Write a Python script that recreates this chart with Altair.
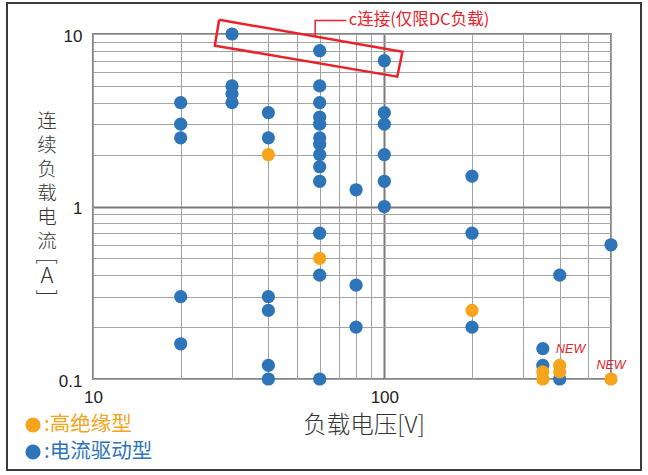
import altair as alt
import pandas as pd

# ---- data ----
BLUE_X = [20, 20, 20, 20, 20,
          30, 30, 30, 30,
          40, 40, 40, 40, 40, 40,
          60, 60, 60, 60, 60, 60, 60, 60, 60, 60, 60, 60, 60,
          80, 80, 80,
          100, 100, 100, 100, 100, 100,
          200, 200, 200,
          350, 350,
          400, 400,
          600]
BLUE_Y = [4, 3, 2.5, 0.3, 0.16,
          10, 5, 4.5, 4,
          3.5, 2.5, 0.3, 0.25, 0.12, 0.1,
          8, 5, 4, 3.3, 3, 2.5, 2.3, 2, 1.7, 1.4, 0.7, 0.4, 0.1,
          1.25, 0.35, 0.2,
          7, 3.5, 3, 2, 1.4, 1,
          1.5, 0.7, 0.2,
          0.15, 0.12,
          0.4, 0.1,
          0.6]
ORANGE_X = [40, 60, 200, 350, 350, 400, 400, 600]
ORANGE_Y = [2, 0.5, 0.25, 0.11, 0.1, 0.12, 0.11, 0.1]

X_GRID = [10, 20, 30, 40, 50, 60, 70, 80, 90, 100, 200, 300, 400, 500, 600]
Y_GRID = [0.1, 0.2, 0.3, 0.4, 0.5, 0.6, 0.7, 0.8, 0.9,
          1, 2, 3, 4, 5, 6, 7, 8, 9, 10]

# annotation box around the "c" contact points (data coordinates)
BOX_X = [27.1, 115.4, 110.8, 26.2, 27.1]
BOX_Y = [12.1, 7.9, 5.66, 8.56, 12.1]
LEADER_X = [57.9, 57.9, 74]
LEADER_Y = [9.67, 11.98, 11.98]
ANNOT_TEXT = "c连接(仅限DC负载)"
NEW_X = [436, 600]
NEW_Y = [0.15, 0.121]

Y_TITLE_CHARS = ["连", "续", "负", "载", "电", "流"]

BLUE = "#2e74b8"
ORANGE = "#f5a41c"
RED = "#e8232b"
CJK = "Noto Sans CJK SC"
INK = "#333333"

blue_df = pd.DataFrame({"v": BLUE_X, "a": BLUE_Y})
orange_df = pd.DataFrame({"v": ORANGE_X, "a": ORANGE_Y})
box_df = pd.DataFrame({"v": BOX_X, "a": BOX_Y, "o": list(range(len(BOX_X)))})
leader_df = pd.DataFrame({"v": LEADER_X, "a": LEADER_Y, "o": list(range(len(LEADER_X)))})
annot_df = pd.DataFrame({"v": [75.5], "a": [11.98], "t": [ANNOT_TEXT]})
new_df = pd.DataFrame({"v": NEW_X, "a": NEW_Y, "t": ["NEW", "NEW"]})
one = pd.DataFrame({"d": [0]})

x_scale = alt.Scale(type="log", domain=[10, 600], nice=False)
y_scale = alt.Scale(type="log", domain=[0.1, 10], nice=False)

x_axis = alt.Axis(
    values=X_GRID,
    labelExpr="datum.value == 10 || datum.value == 100 ? datum.value + '' : ''",
    grid=True,
    gridColor={"condition": {"test": "datum.value == 100", "value": "#7a7a7a"}, "value": "#a3a3a3"},
    gridWidth={"condition": {"test": "datum.value == 100", "value": 2}, "value": 1},
    ticks=False, domain=False, title=None,
    labelFontSize=17, labelColor="#222222", labelFont="Liberation Sans",
    labelPadding=10, labelFlush=False, labelOverlap=False,
)
y_axis = alt.Axis(
    values=Y_GRID,
    labelExpr="datum.value == 0.1 || datum.value == 1 || datum.value == 10 ? datum.value + '' : ''",
    grid=True,
    gridColor={"condition": {"test": "datum.value == 1", "value": "#7a7a7a"}, "value": "#a3a3a3"},
    gridWidth={"condition": {"test": "datum.value == 1", "value": 2}, "value": 1},
    ticks=False, domain=False, title=None,
    labelFontSize=17, labelColor="#222222", labelFont="Liberation Sans",
    labelPadding=11, labelFlush=False, labelOverlap=False, labelOffset=2,
)

X = alt.X("v:Q", scale=x_scale, axis=x_axis)
Y = alt.Y("a:Q", scale=y_scale, axis=y_axis)
Xn = alt.X("v:Q", scale=x_scale)
Yn = alt.Y("a:Q", scale=y_scale)

border = alt.Chart(one).mark_rect(filled=False, stroke="#3a3a3a", strokeWidth=2).encode(
    x=alt.value(-86), x2=alt.value(548), y=alt.value(-31), y2=alt.value(436))

blue = alt.Chart(blue_df).mark_circle(size=175, color=BLUE, opacity=1).encode(x=X, y=Y)
orange = alt.Chart(orange_df).mark_circle(size=175, color=ORANGE, opacity=1).encode(x=Xn, y=Yn)

box = alt.Chart(box_df).mark_line(color=RED, strokeWidth=2.5, clip=False).encode(
    x=Xn, y=Yn, order="o:Q")
leader = alt.Chart(leader_df).mark_line(color=RED, strokeWidth=1.5, clip=False).encode(
    x=Xn, y=Yn, order="o:Q")
annot = alt.Chart(annot_df).mark_text(
    align="left", baseline="middle", font=CJK, fontSize=16.5, color=RED).encode(
    x=Xn, y=Yn, text="t:N")
new = alt.Chart(new_df).mark_text(
    align="center", baseline="middle", font="Liberation Sans", fontSize=12.5,
    fontStyle="italic", color=RED).encode(x=Xn, y=Yn, text="t:N")

ytitle_layers = [
    alt.Chart(one).mark_text(text=ch, font=CJK, fontSize=19.5, fontWeight=300,
                             align="center", baseline="middle", color=INK).encode(
        x=alt.value(-46), y=alt.value(88 + 24 * i))
    for i, ch in enumerate(Y_TITLE_CHARS)
]
ylb = alt.Chart(one).mark_text(text="[", angle=90, font=CJK, fontSize=22, fontWeight=300,
                               align="center", baseline="middle", color=INK).encode(
    x=alt.value(-46), y=alt.value(227))
yA = alt.Chart(one).mark_text(text="A", font=CJK, fontSize=22, fontWeight=300,
                              align="center", baseline="middle", color=INK).encode(
    x=alt.value(-46), y=alt.value(242))
yrb = alt.Chart(one).mark_text(text="]", angle=90, font=CJK, fontSize=22, fontWeight=300,
                               align="center", baseline="middle", color=INK).encode(
    x=alt.value(-46), y=alt.value(259))

xtitle = alt.Chart(one).mark_text(text="负载电压[V]", font=CJK, fontSize=23.5, fontWeight=300,
                                  align="center", baseline="middle", color=INK).encode(
    x=alt.value(271), y=alt.value(392))

leg_o = alt.Chart(one).mark_circle(size=230, color=ORANGE, opacity=1).encode(
    x=alt.value(-60), y=alt.value(391))
leg_ot = alt.Chart(one).mark_text(text=":高绝缘型", font=CJK, fontSize=20.5, align="left",
                                  baseline="middle", color=ORANGE).encode(
    x=alt.value(-49), y=alt.value(391))
leg_b = alt.Chart(one).mark_circle(size=230, color=BLUE, opacity=1).encode(
    x=alt.value(-60), y=alt.value(418))
leg_bt = alt.Chart(one).mark_text(text=":电流驱动型", font=CJK, fontSize=20.5, align="left",
                                  baseline="middle", color=BLUE).encode(
    x=alt.value(-49), y=alt.value(418))

chart = alt.layer(
    border, blue, orange, box, leader, annot, new,
    *ytitle_layers, ylb, yA, yrb, xtitle, leg_o, leg_ot, leg_b, leg_bt,
).properties(
    width=518, height=345,
    autosize=alt.AutoSizeParams(type="none"),
    padding={"left": 93, "top": 34, "right": 37, "bottom": 96},
    background="white",
).configure_view(stroke="#858585", strokeWidth=2)

chart.save("out.html", embed_options={"renderer": "svg", "actions": False})
